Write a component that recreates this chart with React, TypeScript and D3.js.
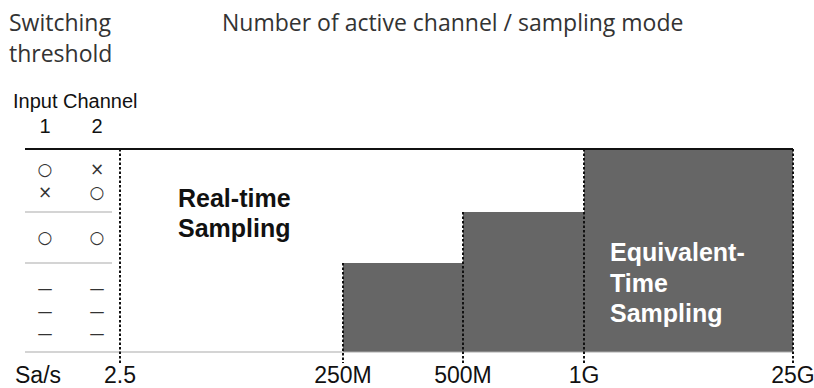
import React from "react";
import * as d3 from "d3";

// ---- data ----
const thresholdLabels = ["2.5", "250M", "500M", "1G", "25G"];
// level of the filled (equivalent-time) step in each segment between thresholds
const segmentLevels = [0, 1, 2, 3];
// channel rows, top to bottom; each row lists lines of [ch1, ch2] marks
const channelHeader = ["1", "2"];
const channelRows: string[][][] = [
  [["○", "×"], ["×", "○"]],
  [["○", "○"]],
  [["—", "—"], ["—", "—"], ["—", "—"]],
];
const titleLeft = ["Switching", "threshold"];
const titleRight = "Number of active channel / sampling mode";
const axisName = "Sa/s";
const tableName = "Input Channel";
const realTimeLabel = ["Real-time", "Sampling"];
const equivLabel = ["Equivalent-", "Time", "Sampling"];

// ---- layout ----
const W = 814;
const H = 388;
const tableLeft = 25;
const tableRight = 112;
const yTop = 149;
const yBottom = 352;
const tickBottom = 363;

const x = d3
  .scaleLinear()
  .domain(d3.range(thresholdLabels.length))
  .range([120, 343, 463, 584, 793]);

// levels: 0 = bottom, 1..3 = top edges of the rows (bottom-up)
const y = d3.scaleLinear().domain([0, 1, 2, 3]).range([yBottom, 263, 212, yTop]);

const colX = d3.scalePoint<string>().domain(channelHeader).range([45, 97]);

const sans = "Liberation Sans, Arial, sans-serif";
const human = "Open Sans, Noto Sans, sans-serif";
const symFont = "DejaVu Sans, sans-serif";

export default function App() {
  const rowBounds = [
    [y(3), y(2)],
    [y(2), y(1)],
    [y(1), y(0)],
  ];
  const rowOffsets = [0, 0, 4];

  return (
    <svg width={W} height={H} style={{ position: "absolute", left: 0, top: 0, background: "#fff" }}>
      {/* titles */}
      <text x={9} y={31} fontFamily={human} fontSize={23} fill="#333">
        {titleLeft[0]}
      </text>
      <text x={9} y={62} fontFamily={human} fontSize={23} fill="#333">
        {titleLeft[1]}
      </text>
      <text x={222} y={31} fontFamily={human} fontSize={23} fill="#333">
        {titleRight}
      </text>
      <text x={13} y={108} fontFamily={sans} fontSize={20} fill="#111">
        {tableName}
      </text>
      {channelHeader.map((c) => (
        <text key={c} x={colX(c)} y={133} textAnchor="middle" fontFamily={sans} fontSize={20} fill="#111">
          {c}
        </text>
      ))}

      {/* bars */}
      {segmentLevels.map((lv, i) =>
        lv > 0 ? (
          <rect
            key={i}
            x={x(i)}
            y={y(lv)}
            width={x(i + 1) - x(i)}
            height={y(0) - y(lv)}
            fill="#666666"
          />
        ) : null
      )}

      {/* bottom gray line */}
      <line x1={tableLeft} x2={x(thresholdLabels.length - 1)} y1={yBottom} y2={yBottom} stroke="#aaa" strokeWidth={1.2} />
      {/* row separators */}
      {rowBounds.slice(0, -1).map((b, i) => (
        <line key={i} x1={tableLeft} x2={tableRight} y1={b[1]} y2={b[1]} stroke="#aaa" strokeWidth={1.2} />
      ))}
      {/* top black line */}
      <line x1={tableLeft} x2={x(thresholdLabels.length - 1)} y1={yTop} y2={yTop} stroke="#111" strokeWidth={2.2} />

      {/* channel marks */}
      {channelRows.map((row, ri) => {
        const [t, b] = rowBounds[ri];
        const n = row.length;
        const step = 22.5;
        const mid = (t + b) / 2 + rowOffsets[ri];
        return row.map((line, li) => {
          const cy = mid + (li - (n - 1) / 2) * step;
          return line.map((m, ci) => (
            <text
              key={`${ri}-${li}-${ci}`}
              x={colX(channelHeader[ci])}
              y={cy}
              dy="0.35em"
              textAnchor="middle"
              fontFamily={symFont}
              fontSize={m === "—" ? 15 : 17}
              fill="#333"
            >
              {m}
            </text>
          ));
        });
      })}

      {/* dotted threshold lines */}
      {thresholdLabels.map((lab, i) => {
        const left = i > 0 ? segmentLevels[i - 1] : 3;
        const right = i < segmentLevels.length ? segmentLevels[i] : 0;
        const top = y(Math.max(left, right));
        return (
          <line
            key={lab}
            x1={x(i)}
            x2={x(i)}
            y1={top}
            y2={tickBottom}
            stroke="#111"
            strokeWidth={2}
            strokeDasharray="2.5,2"
          />
        );
      })}

      {/* axis labels */}
      <text x={15} y={383} fontFamily={sans} fontSize={23} fill="#111">
        {axisName}
      </text>
      {thresholdLabels.map((lab, i) => (
        <text key={lab} x={x(i)} y={383} textAnchor="middle" fontFamily={sans} fontSize={23} fill="#111">
          {lab}
        </text>
      ))}

      {/* region labels */}
      {realTimeLabel.map((t, i) => (
        <text key={t} x={178} y={207 + i * 30} fontFamily={sans} fontWeight="bold" fontSize={25} fill="#111">
          {t}
        </text>
      ))}
      {equivLabel.map((t, i) => (
        <text key={t} x={610} y={261 + i * 30.5} fontFamily={sans} fontWeight="bold" fontSize={25} fill="#fff">
          {t}
        </text>
      ))}
    </svg>
  );
}
